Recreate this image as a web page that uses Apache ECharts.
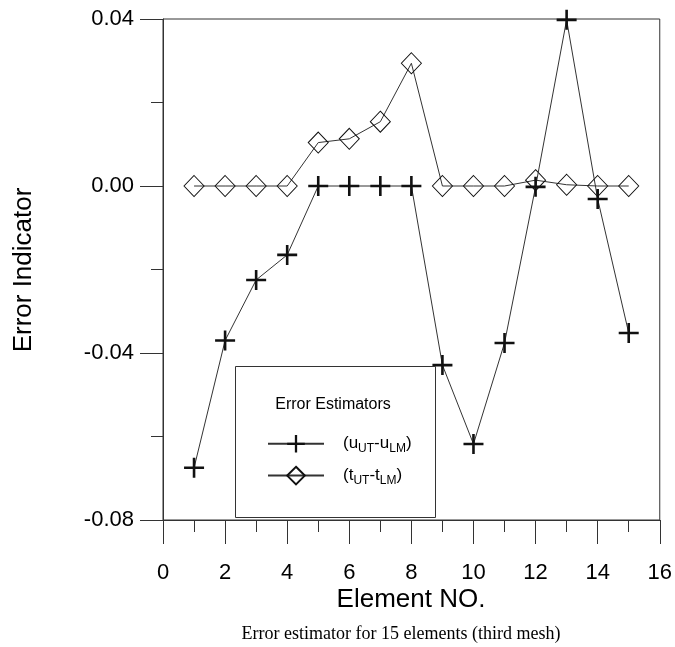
<!DOCTYPE html>
<html>
<head>
<meta charset="utf-8">
<script src="https://cdn.jsdelivr.net/npm/echarts@6/dist/echarts.min.js"></script>
<style>html,body{margin:0;padding:0;background:#fff}#c{width:675px;height:647px}</style>
</head>
<body>
<div id="c"></div>
<script>
// ---- data ----
const elements = [1, 2, 3, 4, 5, 6, 7, 8, 9, 10, 11, 12, 13, 14, 15];
const uDiff = [-0.0675, -0.037, -0.0225, -0.0165, 0, 0, 0, 0, -0.0429, -0.0618, -0.0376, -0.0002, 0.0398, -0.0031, -0.0352];
const tDiff = [0, 0, 0, 0, 0.0104, 0.0113, 0.0154, 0.0294, 0, 0, 0, 0.0014, 0.0003, 0, 0];
const xTicks = [0, 2, 4, 6, 8, 10, 12, 14, 16];
const yTicks = [-0.08, -0.04, 0.00, 0.04];
const xTitle = 'Element NO.';
const yTitle = 'Error Indicator';
const legendTitle = 'Error Estimators';
const caption = 'Error estimator for 15 elements (third mesh)';

const plusPath = 'path://M0,8.7H20V11.3H0ZM8.7,0H11.3V20H8.7Z';
const sans = 'Liberation Sans, Arial, sans-serif';
const ink = '#111';

const chart = echarts.init(document.getElementById('c'), null, {renderer: 'canvas'});
const option = {
  animation: false,
  backgroundColor: '#fff',
  grid: {left: 163, right: 12, top: 19, bottom: 127, show: true, borderColor: '#333', borderWidth: 1},
  xAxis: {
    type: 'value', min: xTicks[0], max: xTicks[xTicks.length - 1], interval: 2,
    axisLine: {onZero: false, lineStyle: {color: '#333', width: 1}},
    axisTick: {show: true, inside: false, length: 24, lineStyle: {color: '#333'}},
    minorTick: {show: true, splitNumber: 2, length: 12, lineStyle: {color: '#333'}},
    splitLine: {show: false},
    axisLabel: {margin: 42, fontSize: 22, color: '#000', fontFamily: sans}
  },
  yAxis: {
    type: 'value', min: yTicks[0], max: yTicks[yTicks.length - 1], interval: 0.04,
    axisLine: {show: true, onZero: false, lineStyle: {color: '#333', width: 1}},
    axisTick: {show: true, inside: false, length: 23, lineStyle: {color: '#333'}},
    minorTick: {show: true, splitNumber: 2, length: 12, lineStyle: {color: '#333'}},
    splitLine: {show: false},
    axisLabel: {
      margin: 29, fontSize: 22, color: '#000', fontFamily: sans,
      formatter: v => (Math.abs(v) < 1e-9 ? 0 : v).toFixed(2)
    }
  },
  legend: {
    orient: 'vertical', left: 262, top: 430, itemWidth: 56, itemHeight: 22, itemGap: 11,
    data: ['u', 't'],
    formatter: n => n === 'u' ? '{a|(u}{s|UT}{a|-u}{s|LM}{a|)}' : '{a|(t}{s|UT}{a|-t}{s|LM}{a|)}',
    textStyle: {
      padding: [0, 0, 0, 14],
      rich: {
        a: {fontSize: 17, fontFamily: sans, color: '#000', lineHeight: 22},
        s: {fontSize: 12, fontFamily: sans, color: '#000', lineHeight: 22, verticalAlign: 'bottom', padding: [7, 0, 0, 0]}
      }
    }
  },
  graphic: [
    {type: 'rect', left: 233, top: 364, shape: {width: 200, height: 151}, style: {fill: 'none', stroke: '#333', lineWidth: 1}, z: 5},
    {type: 'text', x: 333, y: 405, style: {text: legendTitle, font: '16px ' + sans, fill: '#000', textAlign: 'center', textVerticalAlign: 'middle'}},
    {type: 'text', x: 411, y: 600, style: {text: xTitle, font: '26px ' + sans, fill: '#000', textAlign: 'center', textVerticalAlign: 'middle'}},
    {type: 'text', x: 24, y: 270, rotation: Math.PI / 2, style: {text: yTitle, font: '26px ' + sans, fill: '#000', textAlign: 'center', textVerticalAlign: 'middle'}},
    {type: 'text', x: 401, y: 634, style: {text: caption, font: '18px Liberation Serif, Times New Roman, serif', fill: '#000', textAlign: 'center', textVerticalAlign: 'middle'}}
  ],
  series: [
    {
      name: 't', type: 'line', data: elements.map((e, i) => [e, tDiff[i]]),
      symbol: 'diamond', symbolSize: [20, 21],
      itemStyle: {color: 'rgba(0,0,0,0)', borderColor: ink, borderWidth: 1},
      lineStyle: {color: '#333', width: 1}, z: 3
    },
    {
      name: 'u', type: 'line', data: elements.map((e, i) => [e, uDiff[i]]),
      symbol: plusPath, symbolSize: 20,
      itemStyle: {color: ink},
      lineStyle: {color: '#333', width: 1}, z: 4
    }
  ]
};
chart.setOption(option);
</script>
</body>
</html>
